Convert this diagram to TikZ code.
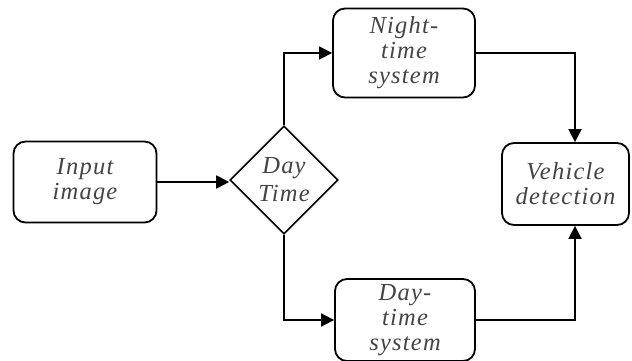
\documentclass[tikz,border=0pt]{standalone}
\usepackage{fontspec}
\setmainfont{Liberation Serif}
\newfontfamily\boxfont[LetterSpace=5]{Liberation Serif}
\usetikzlibrary{shapes.geometric,arrows.meta}
\definecolor{txtgray}{HTML}{444444}
\begin{document}
\begin{tikzpicture}[x=1pt,y=-1pt,
  box/.style={draw,line width=1.8pt,rounded corners=12pt,align=center,inner sep=0pt,
    font=\boxfont\itshape\fontsize{24.5}{25}\selectfont,text=txtgray},
  dec/.style={draw,line width=1.6pt,diamond,inner sep=0pt,align=center,
    font=\boxfont\itshape\fontsize{24.5}{28}\selectfont,text=txtgray},
  conn/.style={line width=1.8pt,-{Triangle[length=13pt,width=13pt]}}]
\useasboundingbox (0,0) rectangle (632,361);
\node[box,minimum width=143pt,minimum height=81pt] (in) at (85,182) {Input\\image};
\node[dec,minimum width=108pt,minimum height=108pt] (dt) at (284,180) {Day\\Time};
\node[box,minimum width=142pt,minimum height=89pt] (night) at (404,53) {Night-\\time\\system};
\node[box,minimum width=140pt,minimum height=82pt] (day) at (405,320) {Day-\\time\\system};
\node[box,minimum width=127pt,minimum height=82pt] (veh) at (565.5,184) {Vehicle\\detection};
\draw[conn] (in.east) -- (in.east -| dt.west);
\draw[conn] (dt.north) |- (night.west);
\draw[conn] (dt.south) |- (day.west);
\draw[conn] (night.east) -| (veh.north -| 575,0);
\draw[conn] (day.east) -| (veh.south -| 575,0);
\end{tikzpicture}
\end{document}
